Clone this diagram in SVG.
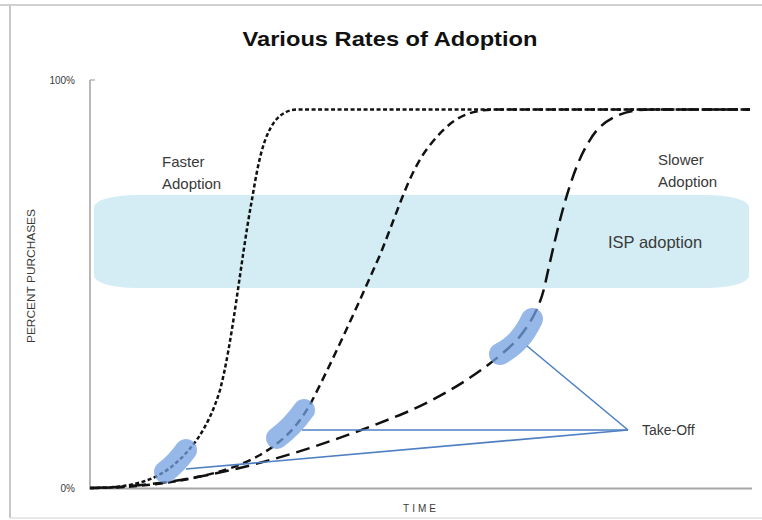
<svg xmlns="http://www.w3.org/2000/svg" width="762" height="520" viewBox="0 0 762 520">
<style>
  .lbl { font-family: "Liberation Sans", Arial, sans-serif; fill: #3a3a3a; }
  .axis { stroke: #a6a6a6; fill: none; }
  .curve { fill: none; stroke: #111; stroke-width: 2.5; }
  .blob { fill: none; stroke: #73a0e2; stroke-opacity: 0.75; stroke-width: 22; stroke-linecap: round; stroke-linejoin: round; }
  .conn { stroke: #4f7fc2; stroke-width: 1.6; fill: none; }
</style>
<rect x="0" y="0" width="762" height="520" fill="#ffffff"/>
<g id="frame">
  <line x1="0" y1="5" x2="762" y2="5" stroke="#d0d0d0" stroke-width="2"/>
  <line x1="10" y1="5" x2="10" y2="518" stroke="#c8c8c8" stroke-width="2"/>
  <line x1="10" y1="518" x2="762" y2="518" stroke="#e0e0e0" stroke-width="1.5"/>
</g>
<g id="title">
  <text x="390" y="46" text-anchor="middle" font-family="Liberation Sans, Arial, sans-serif" font-weight="bold" font-size="21" fill="#111" textLength="295" lengthAdjust="spacingAndGlyphs">Various Rates of Adoption</text>
</g>
<g id="axes">
  <line class="axis" x1="90" y1="80" x2="90" y2="489" stroke-width="1.6"/>
  <line class="axis" x1="90" y1="80" x2="95" y2="80" stroke-width="1.2"/>
  <line class="axis" x1="89" y1="488.5" x2="752" y2="488.5" stroke-width="2.2" stroke="#b8b8b8"/>
  <text class="lbl" x="75" y="84" text-anchor="end" font-size="10">100%</text>
  <text class="lbl" x="75" y="492" text-anchor="end" font-size="10">0%</text>
  <text class="lbl" x="0" y="0" font-size="10" text-anchor="middle" transform="translate(35,276) rotate(-90)" textLength="134" lengthAdjust="spacingAndGlyphs">PERCENT PURCHASES</text>
  <text class="lbl" x="421" y="512" font-size="10" text-anchor="middle" letter-spacing="3">TIME</text>
</g>
<g id="isp-band">
  <rect x="94" y="195" width="655" height="93" rx="42" ry="12" fill="#d4edf5"/>
  <text class="lbl" x="608" y="248" font-size="16.5">ISP adoption</text>
</g>
<g id="faster-label">
  <text class="lbl" x="162" y="167" font-size="15">Faster</text>
  <text class="lbl" x="162" y="189" font-size="15">Adoption</text>
</g>
<g id="slower-label">
  <text class="lbl" x="658" y="165" font-size="15">Slower</text>
  <text class="lbl" x="658" y="187" font-size="15">Adoption</text>
</g>
<g id="curves">
  <path id="curve-fast" class="curve" stroke-dasharray="4 2.5" d="M90,488 C130,488 150,482 170,468 C190,452 208,430 220,390 C232,345 241,260 251,205 C259,160 265,110 297,109.5 L750,109.5"/>
  <path id="curve-mid" class="curve" stroke-dasharray="8 5" d="M90,488 C150,488 220,478 260,455 C285,440 300,425 315,395 C340,345 360,300 380,255 C400,205 410,170 430,145 C450,120 465,110 495,109.5 L750,109.5"/>
  <path id="curve-slow" class="curve" stroke-dasharray="14 7" d="M90,488 C200,486 300,455 400,415 C455,392 495,362 517,340 C532,322 541,305 546,280 C556,235 570,170 590,140 C600,122 620,109.5 650,109.5 L750,109.5"/>
</g>
<g id="takeoff-blobs">
  <path id="blob1" class="blob" d="M165,472 Q176,464 186,450"/>
  <path id="blob2" class="blob" d="M277,438 Q292,427 304,410"/>
  <path id="blob3" class="blob" d="M500,354 C513,347 523,338 532,319"/>
</g>
<g id="connectors">
  <line class="conn" x1="628" y1="430" x2="527" y2="346"/>
  <line class="conn" x1="628" y1="430" x2="302" y2="430"/>
  <line class="conn" x1="628" y1="430" x2="186" y2="469"/>
</g>
<g id="takeoff-label">
  <text class="lbl" x="642" y="435" font-size="14">Take-Off</text>
</g>
</svg>
